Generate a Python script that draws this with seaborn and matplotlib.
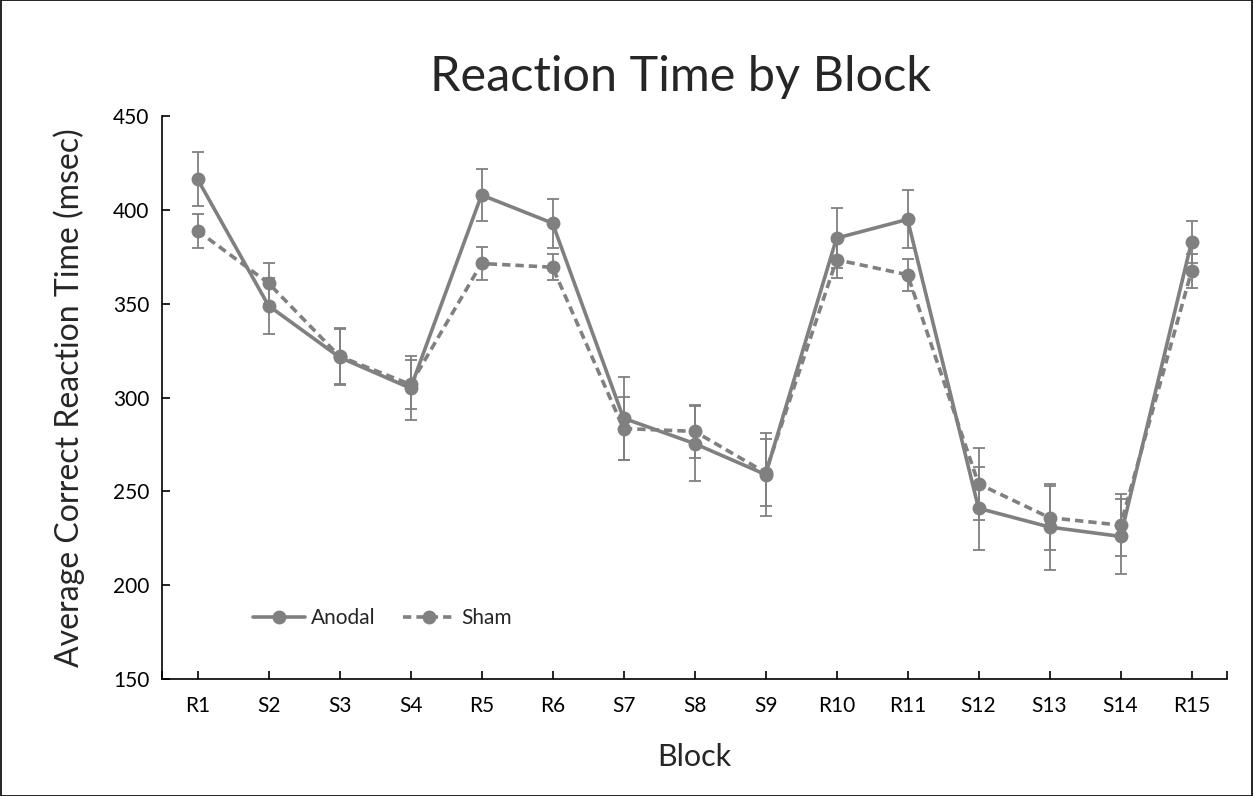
import numpy as np
import pandas as pd
import matplotlib
matplotlib.use('Agg')
import matplotlib.pyplot as plt
import seaborn as sns
from matplotlib.patches import Rectangle

# Values
blocks = ['R1', 'S2', 'S3', 'S4', 'R5', 'R6', 'S7', 'S8', 'S9', 'R10',
          'R11', 'S12', 'S13', 'S14', 'R15']
anodal_mean = [416.5, 349, 321.5, 305, 408, 393, 289, 275.5, 259, 385,
               395, 241, 231, 226, 383]
anodal_err = [14.5, 15, 15, 17, 14, 13, 22, 20, 22, 16,
              15.5, 22, 23, 20, 11]
sham_mean = [389, 361, 322, 307, 371.5, 369.5, 283.5, 282, 260, 373.5,
             365.5, 254, 236, 232, 367.5]
sham_err = [9, 11, 15, 13, 9, 7, 17, 14, 18, 10,
            8.5, 19, 17, 16.5, 9]

df = pd.DataFrame({
    'block': blocks * 2,
    'rt': anodal_mean + sham_mean,
    'group': ['Anodal'] * len(blocks) + ['Sham'] * len(blocks),
})

sns.set_style('ticks')
plt.rcParams['font.family'] = ['Lato', 'DejaVu Sans']

grey = '#808080'
fig = plt.figure(figsize=(12.53, 7.96), dpi=100)
ax = fig.add_axes([0.1293, 0.147, 0.85, 0.707])

x = np.arange(len(blocks))
ax.errorbar(x, anodal_mean, yerr=anodal_err, fmt='none', ecolor=grey,
            elinewidth=1.3, capsize=4.5, capthick=1.3, zorder=1)
ax.errorbar(x, sham_mean, yerr=sham_err, fmt='none', ecolor=grey,
            elinewidth=1.3, capsize=4.5, capthick=1.3, zorder=1)

sns.lineplot(data=df, x='block', y='rt', style='group', sort=False,
             markers={'Anodal': 'o', 'Sham': 'o'},
             dashes={'Anodal': '', 'Sham': (2.3, 1.4)},
             color=grey, linewidth=2.6, markersize=10,
             markeredgewidth=0, ax=ax, zorder=3)

ax.set_xlim(-0.5, len(blocks) - 0.5)
ax.set_ylim(150, 450)
ax.set_yticks(range(150, 451, 50))
ax.set_xticks(x)
ax.set_xticklabels(blocks)
ax.set_xticks([-0.5, len(blocks) - 0.5], minor=True)

for s in ['top', 'right']:
    ax.spines[s].set_visible(False)
for s in ['left', 'bottom']:
    ax.spines[s].set_color('black')
    ax.spines[s].set_linewidth(1.2)

ax.tick_params(axis='both', which='both', direction='in', length=6,
               width=1.2, color='black', labelsize=15, labelcolor='black')
ax.tick_params(axis='x', pad=12)
ax.tick_params(axis='y', pad=9)

ax.set_title('Reaction Time by Block', fontsize=35, pad=18, x=0.487)
ax.set_xlabel('Block', fontsize=22, labelpad=20)
ax.set_ylabel('Average Correct Reaction Time (msec)', fontsize=23, labelpad=20)

leg = ax.legend(loc='center left', bbox_to_anchor=(0.085, 0.108), ncol=2,
                frameon=False, fontsize=15, handlelength=2.5,
                handletextpad=0.3, columnspacing=1.3, borderpad=0,
                borderaxespad=0, title=None)

fig.patches.append(Rectangle((0.0005, 0.0005), 0.999, 0.999,
                             transform=fig.transFigure, fill=False,
                             edgecolor='black', linewidth=1.2))

plt.savefig('out.png', dpi=100)
